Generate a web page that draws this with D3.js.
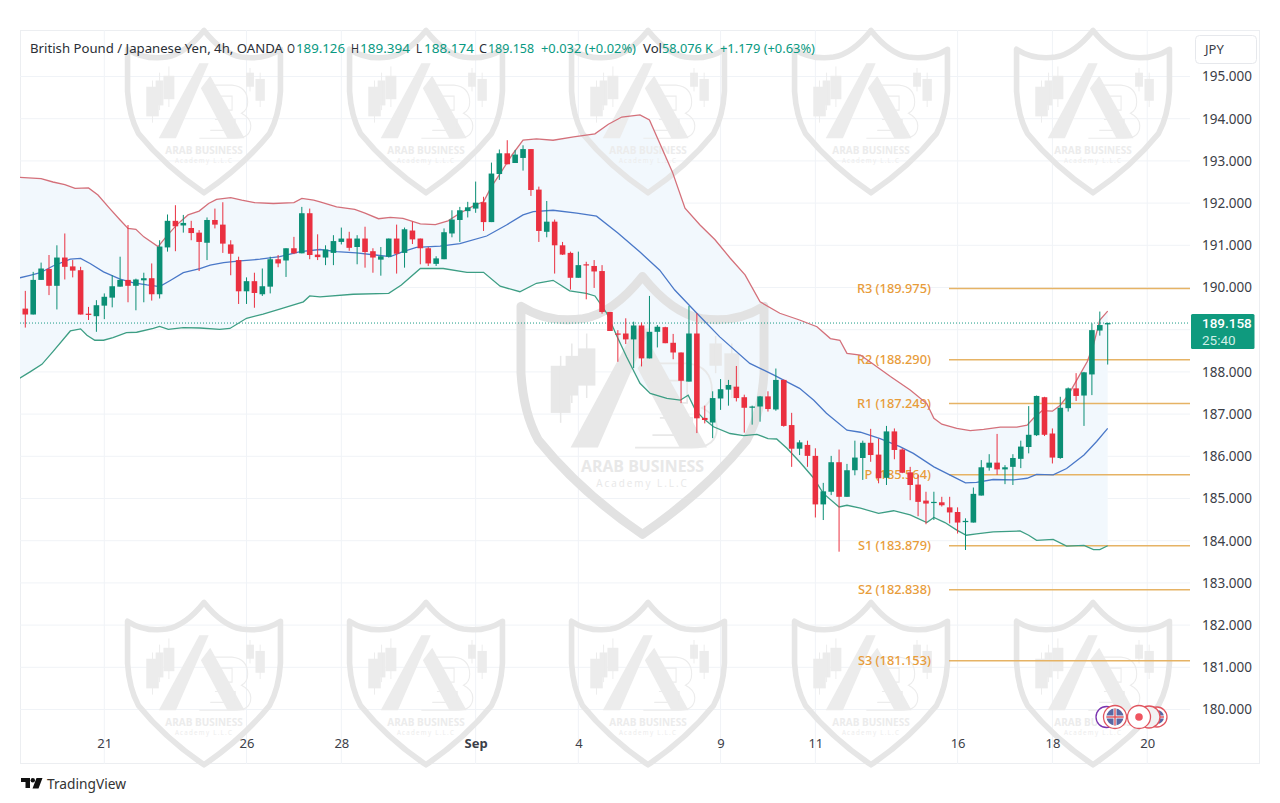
<!DOCTYPE html>
<html><head><meta charset="utf-8">
<script src="https://cdn.jsdelivr.net/npm/d3@7"></script>
<style>html,body{margin:0;padding:0;background:#fff}svg{display:block}text{font-family:"Noto Sans",sans-serif}</style>
</head><body><svg id="c" width="1280" height="803"></svg>
<script>
const opens=[189.50,189.36,190.18,190.44,190.04,190.71,190.50,190.41,189.38,189.32,189.57,189.76,190.02,190.18,190.04,190.17,190.22,189.84,190.95,191.58,191.47,191.41,191.30,191.06,191.60,191.49,191.02,190.65,189.91,190.15,189.84,190.02,190.67,190.64,190.93,190.81,191.76,190.78,190.71,190.82,191.08,191.16,190.96,191.16,190.86,190.66,190.73,191.16,190.82,191.35,191.16,190.93,190.56,190.67,191.28,191.60,191.81,191.87,192.02,191.55,192.69,193.18,192.95,193.07,193.28,192.32,191.32,191.56,191.00,190.82,190.23,190.55,190.51,190.39,189.42,188.91,188.91,188.77,189.10,188.32,188.95,189.06,188.69,188.46,187.77,188.91,186.91,186.80,187.37,187.58,187.65,187.40,187.15,187.18,187.42,187.11,187.81,186.74,186.18,186.27,186.01,184.86,185.16,185.86,185.04,185.67,185.96,186.32,186.04,185.49,186.59,186.16,185.62,185.33,184.95,184.90,184.91,184.79,184.68,184.44,184.43,185.07,185.73,185.85,185.69,185.75,185.94,186.22,186.50,187.40,186.54,185.96,187.14,187.61,187.44,187.94,188.98,189.126];
const closes=[189.36,190.18,190.45,190.04,190.71,190.49,190.40,189.36,189.35,189.58,189.78,190.03,190.18,190.04,190.19,190.22,189.84,190.97,191.58,191.45,191.53,191.29,191.08,191.60,191.49,191.04,190.80,189.91,190.15,189.87,190.03,190.67,190.57,190.93,190.81,191.76,190.77,190.72,190.90,191.10,191.16,190.94,191.16,190.84,190.71,190.74,191.16,190.80,191.38,191.14,190.93,190.57,190.69,191.31,191.61,191.83,191.90,192.01,191.55,192.70,193.18,192.92,193.15,193.28,192.31,191.34,191.56,191.00,190.78,190.23,190.53,190.53,190.38,189.42,188.97,188.90,188.77,189.10,188.32,188.95,189.07,188.68,188.46,187.79,188.91,186.90,186.86,187.38,187.59,187.69,187.38,187.15,187.18,187.42,187.12,187.81,186.72,186.18,186.33,186.01,184.86,185.17,185.86,185.04,185.67,185.97,186.32,186.03,185.48,186.59,186.15,185.61,185.32,184.92,184.88,184.92,184.84,184.67,184.43,184.47,185.11,185.74,185.85,185.69,185.74,185.96,186.23,186.51,187.43,186.51,185.97,187.15,187.61,187.43,187.99,188.99,189.11,189.158];
const highs=[189.92,190.37,190.59,190.77,191.00,191.28,190.65,190.49,189.54,189.70,189.86,190.29,190.73,191.48,190.21,190.35,190.57,191.12,191.73,191.95,191.72,191.58,191.36,191.66,191.87,192.02,191.12,190.73,190.24,190.35,190.45,190.73,190.77,190.93,191.20,191.91,191.87,191.26,191.00,191.24,191.42,191.32,191.24,191.44,190.93,190.96,191.16,191.49,191.42,191.56,191.16,190.96,190.74,191.40,191.83,191.91,192.03,192.51,192.15,192.96,193.27,193.49,193.26,193.37,193.28,192.39,192.05,191.61,191.08,190.85,190.85,190.61,190.65,190.53,189.42,188.99,189.27,189.19,189.17,189.80,189.11,189.07,188.90,188.46,189.56,189.39,187.20,187.54,187.83,187.81,188.14,187.46,187.20,187.43,187.54,188.08,187.82,187.03,186.38,186.37,186.19,185.37,186.01,186.16,185.82,186.37,186.37,186.65,186.42,186.72,186.66,186.19,185.75,185.56,185.16,185.16,185.04,185.04,184.79,184.53,185.26,185.91,186.05,186.53,185.79,186.05,186.37,187.19,187.44,187.41,186.66,187.41,187.63,187.97,188.00,189.15,189.43,189.17];
const lows=[189.05,189.36,190.18,189.82,189.48,190.19,190.24,189.36,189.23,188.95,189.25,189.53,190.02,189.65,189.46,189.65,189.69,189.74,190.85,190.86,191.30,191.12,190.39,190.65,191.40,190.82,190.29,189.61,189.61,189.52,189.80,189.86,190.48,190.25,190.79,190.81,190.67,190.65,190.53,190.53,191.02,190.87,190.55,190.47,190.35,190.28,190.71,190.33,190.47,191.03,190.55,190.51,190.51,190.67,191.19,191.08,191.66,191.77,191.34,191.55,192.55,192.92,192.95,192.77,192.17,191.08,191.19,190.33,190.77,189.95,190.23,189.72,189.99,189.38,188.97,188.24,188.66,188.09,188.13,188.32,188.58,188.68,188.30,187.26,187.77,186.55,186.78,186.43,187.10,187.20,187.30,186.56,186.75,186.82,187.06,187.08,186.70,185.75,186.03,185.75,184.55,184.49,185.08,183.74,185.04,185.55,185.44,185.87,185.36,185.32,185.93,185.60,184.96,184.58,184.39,184.49,184.81,184.41,184.17,183.78,184.43,185.07,185.66,185.56,185.34,185.32,185.72,186.07,186.48,186.48,185.83,185.94,187.06,187.31,186.72,187.45,188.86,188.174];

const upperIdx=[-0.7,2,3.5,5,6.3,8,9.2,10.7,12,13,14,15,16.8,18,19.2,20.6,22,23.2,24.2,26,27.4,29,31.4,34,35,36.5,37.3,39.4,41.7,43,44.7,46.2,47.8,50,51.9,53.5,55,56.9,58,59,60.1,61.6,63,64.7,66.8,69.4,72.1,73.8,75.5,77.8,79,80.3,81.9,83.5,85.4,87.3,89.2,91.1,93,95.5,98,100.2,101.9,103.1,104,105.7,106.9,109.5,112,114.1,115,116,117.9,119.6,121.3,123.4,125.5,126.8,127.6,128.7,130,131,132,133.1,134.4,135.2,136,137];
const upperVals=[192.61,192.58,192.50,192.44,192.35,192.36,192.19,191.87,191.60,191.40,191.38,191.20,190.97,191.24,191.49,191.72,191.81,191.99,192.09,192.13,192.07,192.01,191.99,192.01,192.11,192.07,192.03,191.91,191.85,191.76,191.63,191.66,191.64,191.51,191.49,191.58,191.76,191.95,192.03,192.39,192.70,193.14,193.49,193.52,193.49,193.57,193.64,193.87,194.04,194.09,193.97,193.42,192.74,191.88,191.48,191.13,190.70,190.30,189.66,189.39,189.23,189.07,188.79,188.75,188.44,188.40,188.24,187.89,187.57,187.25,186.90,186.76,186.66,186.61,186.64,186.69,186.69,186.74,186.90,187.08,187.07,187.21,187.45,187.81,188.24,188.64,189.23,189.44];
const midIdx=[-0.7,0.6,1.9,3.5,5.7,7,8.2,9.9,12,13.7,15.4,17,18.3,20,22.1,23.4,25.1,27.2,29.7,32.2,34.8,37.3,39.4,41.9,44.3,46.2,47.8,49.5,52.5,55,58.4,60.9,63,64.3,66.8,69.8,72.3,75,77.8,80.3,82.2,85,87.9,91.7,94.7,98,99.8,101.4,104,105.7,108.2,110.7,112.4,115,117,119,120.4,122.5,125.1,126.8,128,130.1,131.8,134,135.6,137];
const midVals=[190.23,190.29,190.35,190.51,190.67,190.69,190.57,190.37,190.20,190.11,190.06,190.02,190.16,190.35,190.45,190.53,190.59,190.63,190.67,190.73,190.85,190.90,190.85,190.82,190.77,190.73,190.85,190.95,190.98,191.04,191.22,191.48,191.72,191.80,191.83,191.76,191.69,191.29,190.84,190.41,189.94,189.39,188.83,188.20,187.93,187.61,187.33,187.02,186.62,186.57,186.42,186.23,186.07,185.75,185.56,185.37,185.38,185.45,185.44,185.48,185.57,185.56,185.71,186.03,186.35,186.66];
const lowerIdx=[-0.7,0.6,2.1,3.5,5.7,7,7.8,8.8,9.9,11.1,12.8,14.1,16.2,17,18.1,20,22.1,24.6,25.9,28,30.1,32.2,35.2,36,37.3,41.5,46,47.6,50,52.9,55.9,58,60.1,62.6,64.7,66.8,68.9,71,72.1,73.6,74.9,76.1,77.8,79.1,81.2,82.9,83.9,84.8,85.8,87.1,89.2,90.9,92.6,94,95.1,96.4,98,99.8,101,103,104,105.7,108,109.9,112,114.1,115,116.4,117.9,119.1,120.4,122.5,125.9,127,128,130.1,131.8,134,135.2,136,137];
const lowerVals=[187.85,188.00,188.18,188.48,188.97,189.02,188.87,188.75,188.75,188.81,188.93,188.94,189.03,189.08,189.01,189.05,189.04,189.01,189.03,189.27,189.37,189.49,189.66,189.80,189.78,189.84,189.86,190.06,190.45,190.45,190.36,190.36,190.03,189.90,190.10,190.17,189.92,189.86,189.80,189.39,188.84,188.36,187.73,187.49,187.37,187.33,187.45,187.10,186.90,186.70,186.54,186.49,186.52,186.42,186.41,186.19,185.87,185.48,185.12,184.80,184.84,184.77,184.65,184.71,184.61,184.43,184.55,184.43,184.25,184.13,184.16,184.21,184.23,184.13,184.01,184.03,183.87,183.89,183.79,183.79,183.88];

const pivotNames=["R3","R2","R1","P","S1","S2","S3"];
const pivotVals=[189.975,188.290,187.249,185.564,183.879,182.838,181.153];
const gridTicks=d3.range(180,196);
const priceTicks=[195,194,193,192,191,190,188,187,186,185,184,183,182,181,180];
const timeIdx=[10,28,40,57,70,88,100,118,130,142];
const timeLabels=["21","26","28","Sep","4","9","11","16","18","20"];
const lastPrice=189.158, countdown="25:40";
const headerParts=[
 ["British Pound / Japanese Yen, 4h, OANDA",30,253,"#2a2e35"],["O",287,8,"#2a2e35"],["189.126",296,49,"#089981"],
 ["H",351,8,"#2a2e35"],["189.394",360,50,"#089981"],["L",416,6,"#2a2e35"],["188.174",424,50,"#089981"],
 ["C",479,8,"#2a2e35"],["189.158",488,46,"#089981"],["+0.032 (+0.02%)",541,95,"#089981"],
 ["Vol",643,19,"#2a2e35"],["58.076 K",662,51,"#089981"],["+1.179 (+0.63%)",720,95,"#089981"]];
const wmTop=[204,426,648,871,1093];

const GREEN="#0b8f75",RED="#ea3040",GRID="#f0f3f7",PIVOT="#e6b365",PIVTXT="#e89c3a",AXTXT="#3c4048";
const svg=d3.select("#c");
const x=d3.scaleLinear().domain([0,137]).range([25.3,1107.7]);
const y=d3.scaleLinear().domain([180,195]).range([709.5,76.5]);
const L=20,R=1190,T=30,B=764;

svg.append("rect").attr("x",20.5).attr("y",30.5).attr("width",1239).attr("height",733).attr("fill","#fff").attr("stroke","#eceef1");
const defs=svg.append("defs");
defs.append("clipPath").attr("id","plot").append("rect").attr("x",L).attr("y",T).attr("width",R-L).attr("height",B-T);

// grid
const grid=svg.append("g");
grid.selectAll(".h").data(gridTicks).join("line").attr("x1",L).attr("x2",R).attr("y1",d=>y(d)).attr("y2",d=>y(d)).attr("stroke",GRID);
grid.selectAll(".v").data(timeIdx).join("line").attr("x1",d=>x(d)).attr("x2",d=>x(d)).attr("y1",T).attr("y2",B).attr("stroke",GRID);

// band fill
const fillG=svg.append("g").attr("clip-path","url(#plot)");
const pts=(ix,v)=>ix.map((d,i)=>[x(d),y(v[i])]);
const ln=d3.line();
fillG.append("path").attr("d",ln(pts(upperIdx,upperVals).concat(pts(lowerIdx,lowerVals).reverse()))+"Z").attr("fill","#f2f8fd");

// watermark
function shield(g,cx,ty,k,col,col2){
  const w=g.append("g").attr("transform",`translate(${cx},${ty}) scale(${k})`);
  w.append("path").attr("d","M0,1 Q-12,16 -24,18 Q-38,20 -49,13 L-49,40 Q-48,56 -42,67 Q-25,88 0,105 Q25,88 42,67 Q48,56 49,40 L49,13 Q38,20 24,18 Q12,16 0,1Z")
   .attr("fill","none").attr("stroke",col).attr("stroke-width",3.6).attr("stroke-linejoin","round");
  w.append("path").attr("d","M-3,22 L3,22 L-18,70 L-29,70Z M-2,38 L4,30 L26,70 L15,70Z").attr("fill",col2);
  w.append("path").attr("d","M0,36 H18 Q28,37 28,47 Q28,52 24,54 Q30,57 30,62 Q30,70 20,70 H-3 M4,43 H18 V52 H7 M7,58 H20 V65 H4").attr("fill","none").attr("stroke",col2).attr("stroke-width",0.7);
  [[-37,37,8,19,33,60],[-31,33,5,16,28,52],[-26,30,7,15,24,50],[27,28,5,9,25,40],[33,32,6,14,28,50]].forEach(c=>{
    w.append("rect").attr("x",c[0]).attr("y",c[1]).attr("width",c[2]).attr("height",c[3]).attr("fill",col2);
    w.append("line").attr("x1",c[0]+c[2]/2).attr("x2",c[0]+c[2]/2).attr("y1",c[4]).attr("y2",c[5]).attr("stroke",col2).attr("stroke-width",0.6);
  });
  w.append("text").attr("text-anchor","middle").attr("y",80).attr("font-size",6.4).attr("font-weight",700).attr("fill",col2).style("font-family","Open Sans").text("ARAB BUSINESS");
  w.append("text").attr("text-anchor","middle").attr("y",86).attr("font-size",4).attr("letter-spacing",0.8).attr("fill",col2).style("font-family","Open Sans").text("Academy L.L.C");
}
const wm=svg.append("g");
wmTop.forEach(cx=>{shield(wm,cx,29,1.56,"#e6e6e6","#ececec");shield(wm,cx,601,1.56,"#e6e6e6","#ececec");});
shield(wm,642.5,274,2.48,"#e2e2e2","#e8e8e8");

const plot=svg.append("g").attr("clip-path","url(#plot)");
// last price line
plot.append("line").attr("x1",L).attr("x2",R).attr("y1",y(lastPrice)).attr("y2",y(lastPrice)).attr("stroke","#199a85").attr("stroke-dasharray","1 2").attr("stroke-width",1);

// pivots
const piv=svg.append("g");
piv.selectAll("line").data(pivotVals).join("line").attr("x1",949).attr("x2",R).attr("y1",d=>y(d)).attr("y2",d=>y(d)).attr("stroke",PIVOT).attr("stroke-width",1.5);
piv.selectAll("text").data(pivotVals).join("text").attr("x",931).attr("y",d=>y(d)+4.5).attr("text-anchor","end").attr("font-size",12.8).attr("font-weight",500).attr("fill",PIVTXT)
  .text((d,i)=>`${pivotNames[i]} (${d3.format(".3f")(d)})`);

// band lines and candles above labels
const fg=svg.append("g").attr("clip-path","url(#plot)");
const band=(ix,v,c)=>fg.append("path").attr("d",ln(pts(ix,v))).attr("fill","none").attr("stroke",c).attr("stroke-width",1.3);
band(upperIdx,upperVals,"#d4707a");
band(midIdx,midVals,"#4a78c8");
band(lowerIdx,lowerVals,"#3d9e84");

const bw=5.6, cg=fg.append("g");
const idx=d3.range(opens.length), col=i=>closes[i]>=opens[i]?GREEN:RED;
cg.selectAll("line").data(idx).join("line").attr("x1",i=>x(i)).attr("x2",i=>x(i)).attr("y1",i=>y(highs[i])).attr("y2",i=>y(lows[i])).attr("stroke",col).attr("stroke-width",1);
cg.selectAll("rect").data(idx).join("rect").attr("x",i=>x(i)-bw/2).attr("width",bw)
  .attr("y",i=>y(Math.max(opens[i],closes[i]))).attr("height",i=>Math.max(1.2,Math.abs(y(opens[i])-y(closes[i])))).attr("fill",col);

// axes
const ya=svg.append("g").attr("transform","translate(1198,0)").call(d3.axisRight(y).tickValues(priceTicks).tickSize(0).tickPadding(4).tickFormat(d3.format(".3f")));
ya.select(".domain").remove();
ya.selectAll("text").attr("fill",AXTXT).attr("font-size",13.5).style("font-family",'"Noto Sans"');
const xa=svg.append("g").attr("transform","translate(0,739)").call(d3.axisBottom(x).tickValues(timeIdx).tickSize(0).tickPadding(0).tickFormat((d,i)=>timeLabels[i]));
xa.select(".domain").remove();
xa.selectAll("text").attr("fill",AXTXT).attr("font-size",13).style("font-family",'"Noto Sans"').attr("font-weight",(d,i)=>timeLabels[i]==="Sep"?700:400);

// header
svg.append("g").selectAll("text").data(headerParts).join("text").attr("x",d=>d[1]).attr("y",52.5).attr("font-size",12.8).attr("fill",d=>d[3])
  .attr("textLength",d=>d[2]).attr("lengthAdjust","spacingAndGlyphs").text(d=>d[0]);

// JPY button
svg.append("rect").attr("x",1195.5).attr("y",35.5).attr("width",61).attr("height",28).attr("rx",4).attr("fill","#fff").attr("stroke","#e6e8ec");
svg.append("text").attr("x",1205).attr("y",54).attr("font-size",13).attr("fill",AXTXT).text("JPY");

// price tag
svg.append("rect").attr("x",1191).attr("y",314).attr("width",63.5).attr("height",35).attr("rx",1.5).attr("fill","#0f9a7e");
svg.append("text").attr("x",1202).attr("y",328).style("font-family","Roboto").attr("font-size",13.5).attr("font-weight",500).attr("fill","#fff").text(d3.format(".3f")(lastPrice));
svg.append("text").attr("x",1202).attr("y",345).style("font-family","Roboto").attr("font-size",13.5).attr("fill","#cfeee7").text(countdown);

// event icons
const ic=svg.append("g");
const circ=(cx,r,s,f)=>ic.append("circle").attr("cx",cx).attr("cy",717).attr("r",r).attr("fill",f).attr("stroke",s).attr("stroke-width",1.3);
function flag(cx,r){
  circ(cx,r,"#e0555f","#fff");
  ic.append("circle").attr("cx",cx).attr("cy",717).attr("r",r-3).attr("fill","#5a68a4");
  ic.append("path").attr("d",`M${cx-r+3},717 H${cx+r-3} M${cx},${717-r+3} V${717+r-3}`).attr("stroke","#fff").attr("stroke-width",3);
  ic.append("path").attr("d",`M${cx-r+3},717 H${cx+r-3} M${cx},${717-r+3} V${717+r-3}`).attr("stroke","#e0555f").attr("stroke-width",1.4);
}
circ(1106.5,10.5,"#7b35b0","#fff");
flag(1115,11.5);
flag(1157,10);
circ(1149,11,"#e0555f","#f2f2f2");
circ(1139,11.5,"#e0555f","#fff");
ic.append("circle").attr("cx",1139).attr("cy",717).attr("r",3.8).attr("fill","#ef5560");

// footer logo
const lg=svg.append("g").attr("transform","translate(21,778)").attr("fill","#111");
lg.append("path").attr("d","M0,0 H9 V10 H4.5 V4 H0Z M15.5,0 H21.5 L17.5,10.5 H11.5Z");
lg.append("circle").attr("cx",11.8).attr("cy",2.2).attr("r",2.2);
svg.append("text").attr("x",47).attr("y",789).attr("font-size",13.5).attr("fill","#333").attr("textLength",79).attr("lengthAdjust","spacingAndGlyphs").text("TradingView");
</script></body></html>
